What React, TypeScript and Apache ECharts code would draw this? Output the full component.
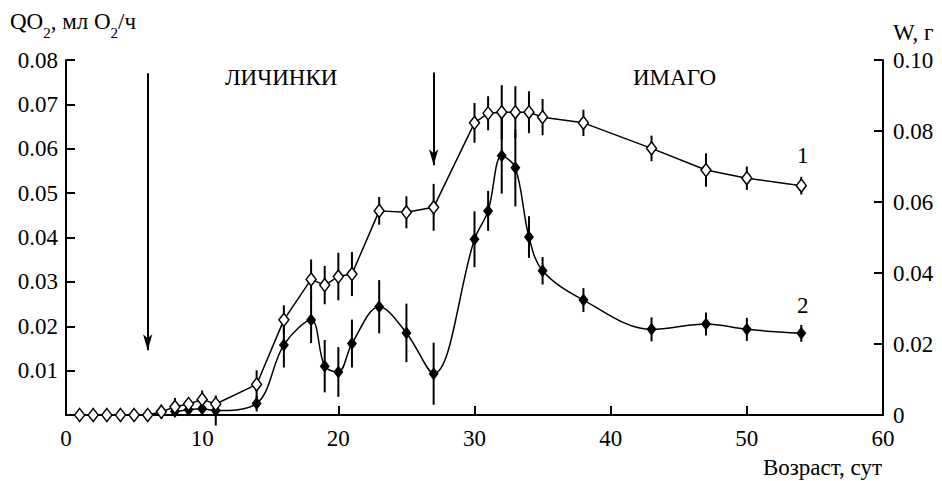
import React, { useEffect, useRef } from "react";
import * as echarts from "echarts";

// Age, days
const agesW = [1, 2, 3, 4, 5, 6, 7, 8, 9, 10, 11, 14, 16, 18, 19, 20, 21, 23, 25, 27, 30, 31, 32, 33, 34, 35, 38, 43, 47, 50, 54];
// Curve 1: body mass W, g (right axis)
const massW = [0, 0, 0, 0, 0, 0, 0.0009, 0.0023, 0.0031, 0.0044, 0.0031, 0.0086, 0.0268, 0.0382, 0.0366, 0.039, 0.0397, 0.0575, 0.0571, 0.0585, 0.0823, 0.085, 0.0853, 0.0853, 0.0853, 0.0839, 0.0823, 0.0751, 0.069, 0.0667, 0.0646];
const massErr = [0, 0, 0, 0, 0, 0.0015, 0.002, 0.0025, 0.0015, 0.0025, 0.002, 0.004, 0.0041, 0.0056, 0.0054, 0.0067, 0.0062, 0.0039, 0.0045, 0.0066, 0.0056, 0.0048, 0.0076, 0.0073, 0.0059, 0.0051, 0.0037, 0.0036, 0.0047, 0.0033, 0.0025];

// Curve 2: oxygen consumption QO2, ml O2/h (left axis)
const agesQ = [8, 9, 10, 11, 14, 16, 18, 19, 20, 21, 23, 25, 27, 30, 31, 32, 33, 34, 35, 38, 43, 47, 50, 54];
const qo2 = [0.0008, 0.0012, 0.0014, 0.001, 0.0026, 0.0158, 0.0214, 0.011, 0.0097, 0.0161, 0.0244, 0.0185, 0.0093, 0.0396, 0.046, 0.0584, 0.0557, 0.0401, 0.0325, 0.0259, 0.0193, 0.0205, 0.0193, 0.0184];
const qo2Err = [0.0011, 0.001, 0.001, 0.0034, 0.0018, 0.0051, 0.0052, 0.0059, 0.0056, 0.0054, 0.006, 0.0066, 0.007, 0.0063, 0.0045, 0.0085, 0.0087, 0.0047, 0.0031, 0.0027, 0.0027, 0.0026, 0.0026, 0.0019];

// Stage arrows (age, day) and their extent on the QO2 axis
const arrowAges = [6, 27];
const arrowTops = [0.077, 0.0772];
const arrowEnds = [0.0146, 0.0563];

const FONT = "Liberation Serif";
const FS = 23;

export default function App() {
  const ref = useRef<HTMLDivElement>(null);
  useEffect(() => {
    if (!ref.current) return;
    const chart = echarts.init(ref.current, null, { renderer: "svg" });
    const errRender = (params: any, api: any) => {
      const x = api.value(0);
      const lo = api.value(1);
      const hi = api.value(2);
      if (hi - lo <= 0) return null;
      const p1 = api.coord([x, lo]);
      const p2 = api.coord([x, hi]);
      return {
        type: "line",
        shape: { x1: p1[0], y1: p1[1], x2: p2[0], y2: p2[1] },
        style: { stroke: "#000", lineWidth: 2 },
      };
    };
    const txt = (text: string, pos: any) => ({
      type: "text",
      ...pos,
      style: { text, fontFamily: FONT, fontSize: FS, fill: "#000" },
    });
    const axisLbl = { fontFamily: FONT, fontSize: FS, color: "#000" };
    chart.setOption({
      animation: false,
      textStyle: { fontFamily: FONT, color: "#000" },
      grid: { left: 66, right: 59, top: 60, bottom: 66 },
      xAxis: {
        type: "value",
        min: 0,
        max: 60,
        interval: 10,
        axisLine: { show: true, lineStyle: { color: "#000", width: 2 } },
        axisTick: { show: true, inside: true, length: 9, lineStyle: { color: "#000", width: 2 } },
        axisLabel: { ...axisLbl, margin: 12 },
        splitLine: { show: false },
      },
      yAxis: [
        {
          type: "value",
          min: 0,
          max: 0.08,
          interval: 0.01,
          axisLine: { show: true, lineStyle: { color: "#000", width: 2 } },
          axisTick: { show: true, inside: true, length: 9, lineStyle: { color: "#000", width: 2 } },
          axisLabel: {
            ...axisLbl,
            margin: 8,
            showMinLabel: false,
            formatter: (v: number) => v.toFixed(2),
          },
          splitLine: { show: false },
        },
        {
          type: "value",
          min: 0,
          max: 0.1,
          interval: 0.02,
          position: "right",
          axisLine: { show: true, lineStyle: { color: "#000", width: 2 } },
          axisTick: { show: true, inside: true, length: 9, lineStyle: { color: "#000", width: 2 } },
          axisLabel: {
            ...axisLbl,
            margin: 10,
            formatter: (v: number) => (v === 0 ? "0" : v.toFixed(2)),
          },
          splitLine: { show: false },
        },
      ],
      graphic: [
        {
          type: "text",
          left: 10,
          top: 10,
          style: {
            text: "{a|QO}{s|2}{a|, мл O}{s|2}{a|/ч}",
            rich: {
              a: { fontFamily: FONT, fontSize: FS, fill: "#000", height: 26, verticalAlign: "top" },
              s: { fontFamily: FONT, fontSize: 15, fill: "#000", height: 26, padding: [11, 0, 0, 0], verticalAlign: "top" },
            },
          },
        },
        txt("W, г", { left: 893, top: 21 }),
        txt("Возраст, сут", { right: 60, top: 456 }),
        txt("ЛИЧИНКИ", { left: 225, top: 66 }),
        txt("ИМАГО", { left: 633, top: 66 }),
        txt("1", { left: 797, top: 144 }),
        txt("2", { left: 797, top: 294 }),
      ],
      series: [
        {
          type: "custom",
          yAxisIndex: 1,
          z: 1,
          renderItem: errRender,
          data: agesW.map((a, i) => [a, massW[i] - massErr[i], massW[i] + massErr[i]]),
          silent: true,
        },
        {
          type: "custom",
          yAxisIndex: 0,
          z: 1,
          renderItem: errRender,
          data: agesQ.map((a, i) => [a, qo2[i] - qo2Err[i], qo2[i] + qo2Err[i]]),
          silent: true,
        },
        {
          name: "2",
          type: "line",
          yAxisIndex: 0,
          z: 3,
          smooth: 0.35,
          data: agesQ.map((a, i) => [a, qo2[i]]),
          symbol: "diamond",
          symbolSize: [10, 13],
          itemStyle: { color: "#000" },
          lineStyle: { color: "#000", width: 1.5 },
          markLine: {
            silent: true,
            symbol: ["none", "arrow"],
            symbolSize: [7, 16],
            label: { show: false },
            lineStyle: { color: "#000", width: 2, type: "solid" },
            data: arrowAges.map((a, i) => [{ coord: [a, arrowTops[i]] }, { coord: [a, arrowEnds[i]] }]),
          },
        },
        {
          name: "1",
          type: "line",
          yAxisIndex: 1,
          z: 4,
          data: agesW.map((a, i) => [a, massW[i]]),
          symbol: "diamond",
          symbolSize: [10, 13],
          itemStyle: { color: "#fff", borderColor: "#000", borderWidth: 1.5 },
          lineStyle: { color: "#000", width: 1.5 },
        },
      ],
    });
    return () => chart.dispose();
  }, []);
  return <div ref={ref} style={{ width: 942, height: 481, position: "absolute", left: 0, top: 0 }} />;
}
